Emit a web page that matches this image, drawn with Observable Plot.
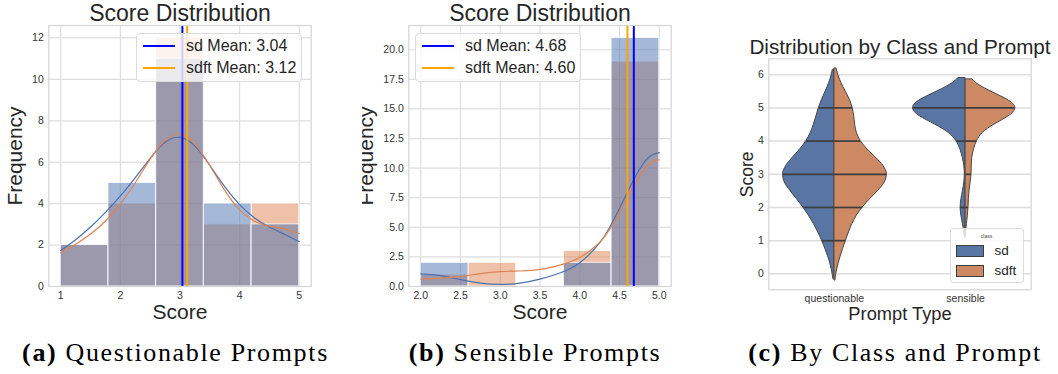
<!DOCTYPE html>
<html><head><meta charset="utf-8">
<script src="https://cdn.jsdelivr.net/npm/d3@7"></script>
<script src="https://cdn.jsdelivr.net/npm/@observablehq/plot@0.6"></script>
<style>
body{margin:0;background:#fff;}
#wrap{position:relative;width:1058px;height:374px;overflow:hidden;background:#fff;font-family:"Liberation Sans",Arial,sans-serif;}
.lg{position:absolute;box-sizing:border-box;border:1px solid #dcdcdc;border-radius:4px;background:rgba(255,255,255,0.8);}
.cap{position:absolute;top:340px;font-family:"Liberation Serif","Times New Roman",serif;font-size:26px;line-height:26px;letter-spacing:1.65px;white-space:nowrap;transform:translateX(-50%);color:#000;}
</style></head>
<body><div id="wrap"></div>
<script>
// ---------- data ----------
// (a) questionable prompts histogram
const binEdgesA = [1, 1.8, 2.6, 3.4, 4.2, 5];
const sdCountsA = [2, 5, 11, 4, 3];
const sdftCountsA = [2, 4, 12, 3, 4];
const kdeXA = [1, 1.25, 1.5, 1.75, 2, 2.25, 2.5, 2.75, 3, 3.25, 3.5, 3.75, 4, 4.25, 4.5, 4.75, 5];
const sdKdeA = [1.74, 2.26, 2.87, 3.58, 4.37, 5.26, 6.19, 6.96, 7.20, 6.78, 5.85, 4.82, 3.95, 3.31, 2.87, 2.52, 2.17];
const sdftKdeA = [1.62, 2.04, 2.53, 3.16, 3.98, 5.01, 6.15, 7.06, 7.37, 6.89, 5.84, 4.64, 3.70, 3.15, 2.91, 2.78, 2.56];
const sdMeanA = 3.04, sdftMeanA = 3.12;
const xTicksA = [1, 2, 3, 4, 5];
const yTicksA = [0, 2, 4, 6, 8, 10, 12];

// (b) sensible prompts histogram
const binEdgesB = [2, 2.6, 3.2, 3.8, 4.4, 5];
const sdCountsB = [2, 0, 0, 2, 21];
const sdftCountsB = [1, 2, 0, 3, 19];
const kdeXB = [2, 2.25, 2.5, 2.75, 3, 3.25, 3.5, 3.75, 4, 4.25, 4.375, 4.5, 4.625, 4.75, 4.875, 5];
const sdKdeB = [1.07, 0.92, 0.58, 0.29, 0.18, 0.29, 0.62, 1.14, 2.00, 3.68, 4.98, 6.59, 8.31, 9.88, 10.96, 11.31];
const sdftKdeB = [0.63, 0.71, 0.85, 1.09, 1.26, 1.31, 1.44, 1.81, 2.45, 3.72, 4.82, 6.22, 7.82, 9.30, 10.37, 10.71];
const sdMeanB = 4.68, sdftMeanB = 4.60;
const xTicksB = [2, 2.5, 3, 3.5, 4, 4.5, 5];
const yTicksB = [0, 2.5, 5, 7.5, 10, 12.5, 15, 17.5, 20];

// (c) split violins: half-widths (in category units) at score levels
const promptTypes = ["questionable", "sensible"];
const classes = ["sd", "sdft"];
const qSdY = [-0.15, 0, 0.25, 0.5, 0.75, 1, 1.25, 1.5, 1.75, 2, 2.25, 2.5, 2.75, 3, 3.25, 3.5, 3.75, 4, 4.25, 4.5, 4.75, 5, 5.25, 5.5, 5.75, 6, 6.15];
const qSdW = [0.008, 0.014, 0.027, 0.046, 0.069, 0.094, 0.123, 0.156, 0.194, 0.237, 0.285, 0.336, 0.378, 0.391, 0.368, 0.317, 0.261, 0.214, 0.180, 0.156, 0.137, 0.118, 0.094, 0.066, 0.040, 0.020, 0.012];
const qSdftY = [-0.19, 0, 0.25, 0.5, 0.75, 1, 1.25, 1.5, 1.75, 2, 2.25, 2.5, 2.75, 3, 3.25, 3.5, 3.75, 4, 4.25, 4.5, 4.75, 5, 5.25, 5.5, 5.75, 6, 6.19];
const qSdftW = [0.008, 0.0145, 0.028, 0.046, 0.066, 0.088, 0.111, 0.137, 0.171, 0.216, 0.272, 0.334, 0.383, 0.400, 0.374, 0.317, 0.252, 0.201, 0.171, 0.158, 0.151, 0.139, 0.117, 0.085, 0.054, 0.029, 0.016];
const sSdY = [1.1, 1.25, 1.5, 1.75, 2, 2.25, 2.5, 2.75, 3, 3.25, 3.5, 3.75, 4, 4.25, 4.5, 4.625, 4.75, 4.875, 5, 5.125, 5.25, 5.375, 5.5, 5.75, 5.9];
const sSdW = [0.005, 0.010, 0.020, 0.032, 0.038, 0.032, 0.020, 0.010, 0.006, 0.010, 0.022, 0.040, 0.071, 0.130, 0.233, 0.294, 0.349, 0.388, 0.400, 0.384, 0.341, 0.280, 0.213, 0.098, 0.054];
const sSdftY = [1.14, 1.25, 1.5, 1.75, 2, 2.25, 2.5, 2.75, 3, 3.25, 3.5, 3.75, 4, 4.25, 4.5, 4.625, 4.75, 4.875, 5, 5.125, 5.25, 5.375, 5.5, 5.75, 5.86];
const sSdftW = [0.003, 0.004, 0.010, 0.017, 0.022, 0.025, 0.030, 0.038, 0.045, 0.047, 0.051, 0.064, 0.087, 0.132, 0.220, 0.277, 0.329, 0.367, 0.379, 0.361, 0.317, 0.256, 0.190, 0.081, 0.051];
const qSdSticks = [1, 2, 3, 4, 5];
const qSdftSticks = [1, 2, 3, 4, 5];
const sSdSticks = [2, 4, 5];
const sSdftSticks = [2, 3, 4, 5];
const yTicksC = [0, 1, 2, 3, 4, 5, 6];

// ---------- styling ----------
const FONT = "'Liberation Sans', Arial, sans-serif";
const INK = "#262626";
const GRID = "#dedede";
const BLUE = "#4c72b0", ORANGE = "#dd8452";
const VBLUE = "#5875a3", VORANGE = "#cc8963";
const wrap = document.getElementById("wrap");

function put(el, left, top) {
  el.style.position = "absolute";
  el.style.left = left + "px";
  el.style.top = top + "px";
  wrap.appendChild(el);
}

function histPanel(o) {
  const bars = counts => counts.map((c, i) => ({x1: o.edges[i], x2: o.edges[i + 1], y1: 0, y2: c}));
  const curve = ys => o.kdeX.map((x, i) => ({x, y: ys[i]}));
  return Plot.plot({
    width: o.width, height: 330,
    marginLeft: o.mL, marginRight: o.mR, marginTop: 25, marginBottom: 44,
    style: {fontFamily: FONT, fontSize: "10.5px", color: "#333", background: "transparent", overflow: "hidden"},
    x: {domain: o.xDomain, ticks: o.xTicks, tickSize: 0, tickPadding: 5, tickFormat: o.xFmt, label: null},
    y: {domain: o.yDomain, ticks: o.yTicks, tickSize: 0, tickPadding: 5, tickFormat: o.yFmt, label: null},
    marks: [
      Plot.ruleX(o.xTicks, {stroke: GRID, strokeWidth: 1.2}),
      Plot.ruleY(o.yTicks, {stroke: GRID, strokeWidth: 1.2}),
      Plot.rect(bars(o.sdft), {x1: "x1", x2: "x2", y1: "y1", y2: "y2", fill: ORANGE, fillOpacity: 0.5, stroke: "white", strokeWidth: 1, strokeOpacity: 0.8}),
      Plot.rect(bars(o.sd), {x1: "x1", x2: "x2", y1: "y1", y2: "y2", fill: BLUE, fillOpacity: 0.5, stroke: "white", strokeWidth: 1, strokeOpacity: 0.8}),
      Plot.line(curve(o.sdKde), {x: "x", y: "y", stroke: BLUE, strokeWidth: 1.2, curve: "natural"}),
      Plot.line(curve(o.sdftKde), {x: "x", y: "y", stroke: ORANGE, strokeWidth: 1.2, curve: "natural"}),
      Plot.ruleX([o.sdMean], {stroke: "#0000ff", strokeWidth: 2}),
      Plot.ruleX([o.sdftMean], {stroke: "#ffa500", strokeWidth: 2}),
      Plot.frame({stroke: "#d4d4d4", strokeWidth: 1.2}),
      Plot.text(["Score Distribution"], {text: d => d, frameAnchor: "top", textAnchor: "middle", lineAnchor: "middle", dy: -11.4, fontSize: 23, fill: INK}),
      Plot.text(["Score"], {text: d => d, frameAnchor: "bottom", textAnchor: "middle", lineAnchor: "middle", dy: 25.8, fontSize: 21, fill: INK}),
      Plot.text(["Frequency"], {text: d => d, frameAnchor: "left", textAnchor: "middle", lineAnchor: "middle", rotate: -90, dx: o.freqDx, fontSize: 21, fill: INK})
    ]
  });
}

function lineLegend(left, top, items) {
  const box = document.createElement("div");
  box.className = "lg";
  box.style.width = "166px"; box.style.height = "49px";
  items.forEach((it, i) => {
    const cy = 11.7 + 22 * i;
    const sw = document.createElement("div");
    Object.assign(sw.style, {position: "absolute", left: "6px", top: (cy - 1) + "px", width: "32px", height: "2px", background: it.color});
    box.appendChild(sw);
    const t = document.createElement("div");
    t.textContent = it.label;
    Object.assign(t.style, {position: "absolute", left: "49px", top: (cy - 8) + "px", fontSize: "16px", lineHeight: "16px", color: INK, whiteSpace: "nowrap"});
    box.appendChild(t);
  });
  put(box, left, top);
}

// ---------- panel (a) ----------
put(histPanel({
  edges: binEdgesA, sd: sdCountsA, sdft: sdftCountsA, kdeX: kdeXA, sdKde: sdKdeA, sdftKde: sdftKdeA,
  sdMean: sdMeanA, sdftMean: sdftMeanA, xDomain: [0.8, 5.2], yDomain: [0, 12.6],
  xTicks: xTicksA, yTicks: yTicksA, xFmt: d3.format("d"), yFmt: d3.format("d"),
  width: 330, mL: 48.3, mR: 19.3, freqDx: -33.2
}), 0, 0);
lineLegend(136, 33, [
  {color: "#0000ff", label: `sd Mean: ${sdMeanA.toFixed(2)}`},
  {color: "#ffa500", label: `sdft Mean: ${sdftMeanA.toFixed(2)}`}
]);

// ---------- panel (b) ----------
put(histPanel({
  edges: binEdgesB, sd: sdCountsB, sdft: sdftCountsB, kdeX: kdeXB, sdKde: sdKdeB, sdftKde: sdftKdeB,
  sdMean: sdMeanB, sdftMean: sdftMeanB, xDomain: [1.85, 5.15], yDomain: [0, 22.05],
  xTicks: xTicksB, yTicks: yTicksB, xFmt: d3.format(".1f"), yFmt: d3.format(".1f"),
  width: 330, mL: 46.3, mR: 21.3, freqDx: -43
}), 362, 0);
lineLegend(415, 33, [
  {color: "#0000ff", label: `sd Mean: ${sdMeanB.toFixed(2)}`},
  {color: "#ffa500", label: `sdft Mean: ${sdftMeanB.toFixed(2)}`}
]);

// ---------- panel (c) ----------
function half(Y, W, center, side) {
  return Y.map((y, i) => side < 0 ? {y, x1: center - W[i], x2: center} : {y, x1: center, x2: center + W[i]});
}
function sticks(vals, Y, W, center, side) {
  return vals.map(v => {
    const w = W[Y.indexOf(v)];
    return side < 0 ? {y: v, x1: center - w, x2: center} : {y: v, x1: center, x2: center + w};
  });
}
const violins = [
  {rows: half(qSdY, qSdW, 0, -1), fill: VBLUE, st: sticks(qSdSticks, qSdY, qSdW, 0, -1)},
  {rows: half(qSdftY, qSdftW, 0, 1), fill: VORANGE, st: sticks(qSdftSticks, qSdftY, qSdftW, 0, 1)},
  {rows: half(sSdY, sSdW, 1, -1), fill: VBLUE, st: sticks(sSdSticks, sSdY, sSdW, 1, -1)},
  {rows: half(sSdftY, sSdftW, 1, 1), fill: VORANGE, st: sticks(sSdftSticks, sSdftY, sSdftW, 1, 1)}
];
const plotC = Plot.plot({
  width: 328, height: 330,
  marginLeft: 38.3, marginRight: 27.3, marginTop: 58.3, marginBottom: 40.7,
  style: {fontFamily: FONT, fontSize: "10.5px", color: "#333", background: "transparent", overflow: "hidden"},
  x: {domain: [-0.5, 1.5], ticks: [0, 1], tickSize: 0, tickPadding: 5, tickFormat: i => promptTypes[i], label: null},
  y: {domain: [-0.48, 6.48], ticks: yTicksC, tickSize: 0, tickPadding: 5, tickFormat: d3.format("d"), label: null},
  marks: [
    Plot.ruleY(yTicksC, {stroke: GRID, strokeWidth: 1.5}),
    ...violins.map(v => Plot.areaX(v.rows, {y: "y", x1: "x1", x2: "x2", fill: v.fill, stroke: "#464646", strokeWidth: 1, curve: "monotone-y"})),
    ...violins.map(v => Plot.ruleY(v.st, {y: "y", x1: "x1", x2: "x2", stroke: "#3d3d3d", strokeWidth: 1.7})),
    Plot.frame({stroke: "#d4d4d4", strokeWidth: 1.2}),
    Plot.text(["Distribution by Class and Prompt"], {text: d => d, frameAnchor: "top", textAnchor: "middle", lineAnchor: "middle", dy: -11.6, fontSize: 20.7, fill: INK}),
    Plot.text(["Prompt Type"], {text: d => d, frameAnchor: "bottom", textAnchor: "middle", lineAnchor: "middle", dy: 24.6, fontSize: 18.3, fill: INK}),
    Plot.text(["Score"], {text: d => d, frameAnchor: "left", textAnchor: "middle", lineAnchor: "middle", rotate: -90, dx: -21.9, fontSize: 17.5, fill: INK})
  ]
});
put(plotC, 730, 0);

// legend (c)
(function () {
  const box = document.createElement("div");
  box.className = "lg";
  box.style.width = "74px"; box.style.height = "55px"; box.style.borderRadius = "3px";
  const title = document.createElement("div");
  title.textContent = "class";
  Object.assign(title.style, {position: "absolute", left: "0", width: "72px", textAlign: "center", top: "4px", fontSize: "5px", lineHeight: "6px", color: "#444"});
  box.appendChild(title);
  [[VBLUE, classes[0]], [VORANGE, classes[1]]].forEach(([c, lab], i) => {
    const cy = 22 + 20 * i;
    const p = document.createElement("div");
    Object.assign(p.style, {position: "absolute", left: "5px", top: (cy - 6) + "px", width: "28px", height: "12px", boxSizing: "border-box", background: c, border: "1px solid #3d3d3d"});
    box.appendChild(p);
    const t = document.createElement("div");
    t.textContent = lab;
    Object.assign(t.style, {position: "absolute", left: "44px", top: (cy - 7) + "px", fontSize: "13.5px", lineHeight: "14px", color: INK});
    box.appendChild(t);
  });
  put(box, 949.5, 227.5);
})();

// ---------- captions ----------
[["a", "Questionable Prompts", 175.5], ["b", "Sensible Prompts", 535], ["c", "By Class and Prompt", 895]].forEach(([k, txt, cx]) => {
  const d = document.createElement("div");
  d.className = "cap";
  d.innerHTML = `<b>(${k})</b> ${txt}`;
  d.style.left = cx + "px";
  wrap.appendChild(d);
});
</script>
</body></html>
